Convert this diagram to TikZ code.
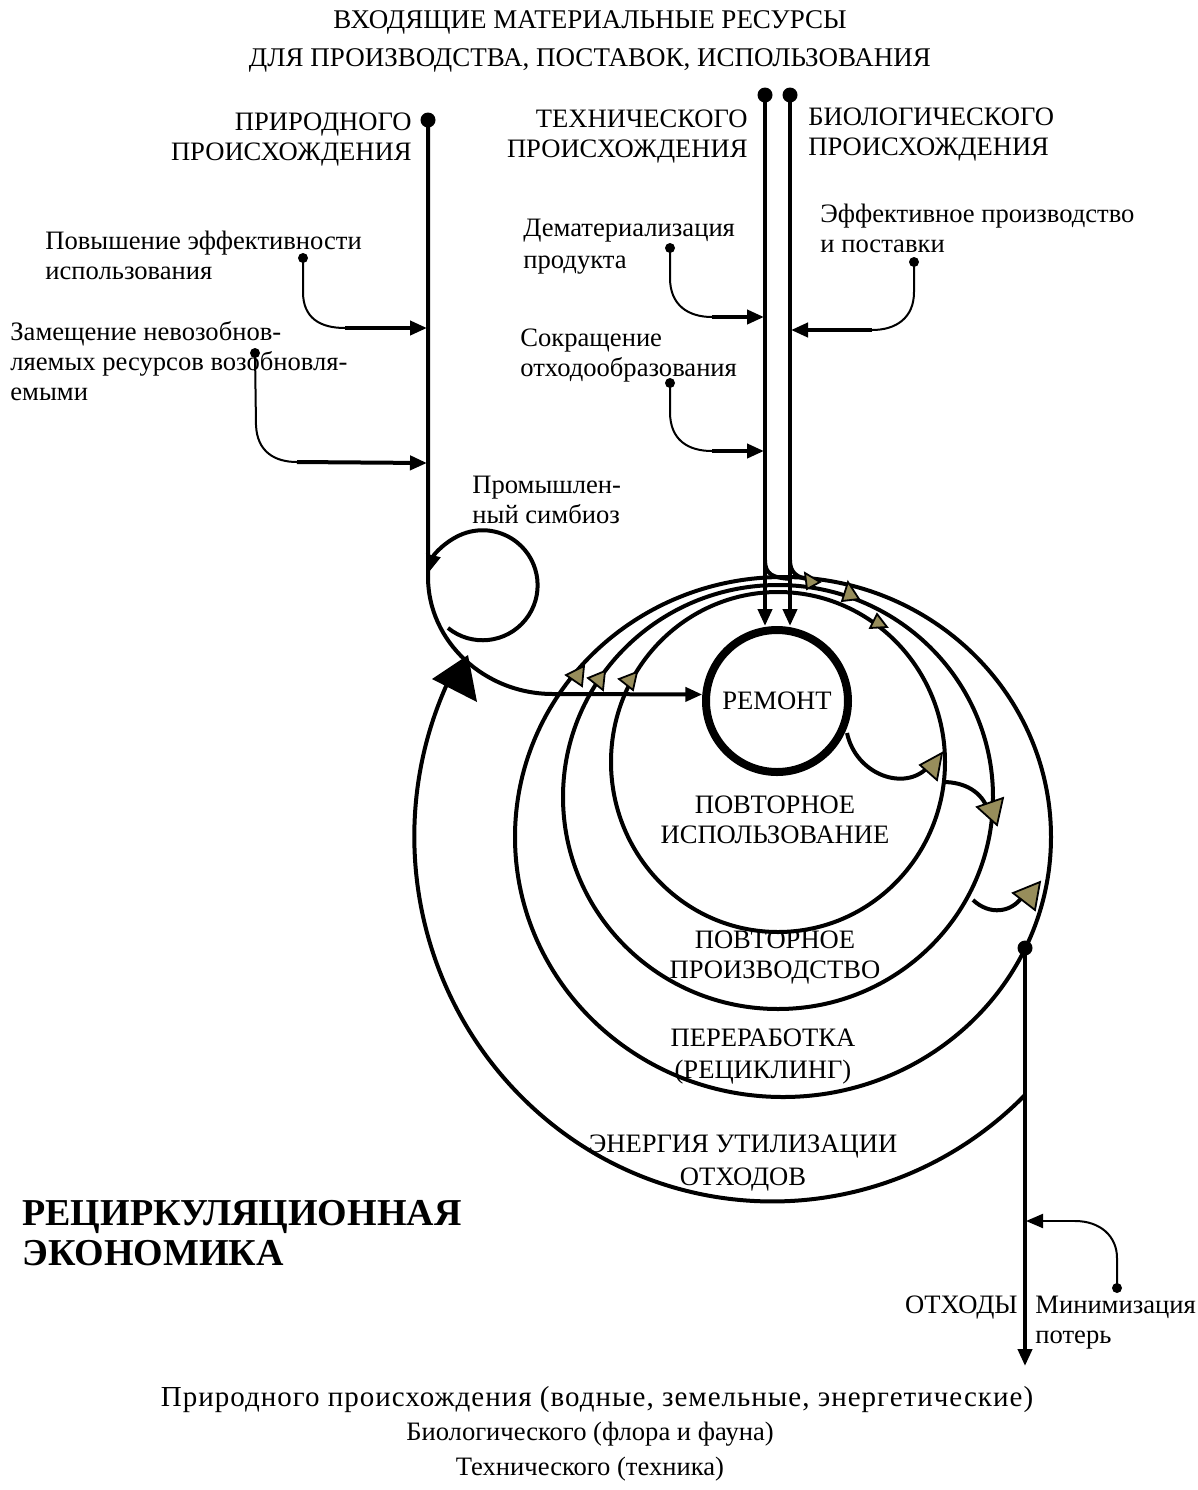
\documentclass[tikz,border=0pt]{standalone}
\usepackage{fontspec}
\setmainfont{Liberation Serif}
\usetikzlibrary{arrows.meta}
\definecolor{gold}{HTML}{978D5B}
\begin{document}
\begin{tikzpicture}[x=0.5pt,y=-0.5pt,
  lbl/.style={inner sep=0pt, font=\fontsize{13.3}{15}\selectfont},
  main/.style={line width=2pt},
  thinl/.style={line width=1pt},
  ring/.style={line width=2pt},
  arr/.style={-{Triangle[length=8.5pt,width=7pt]}},
  bigdot/.style={circle, fill=black, inner sep=0pt, minimum size=7.5pt},
  smalldot/.style={circle, fill=black, inner sep=0pt, minimum size=5pt},
  goldtri/.style={fill=gold, draw=black, line width=0.9pt, line join=miter},
]
\useasboundingbox (0,0) rectangle (1198,1490);

% ---------- rings ----------
\draw[ring] (783,837) ellipse [x radius=268, y radius=260];
\draw[ring] (778,797) ellipse [x radius=215, y radius=212];
\draw[ring] (778,762) ellipse [x radius=167, y radius=170];
\draw[ring] (1025,1095) arc[start angle=45.1, end angle=205, x radius=358, y radius=365];
\fill (432,679) -- (468,655) -- (477,702) -- cycle;

% ---------- repair ----------
\node[circle, draw, line width=4pt, minimum size=71pt, inner sep=0pt,
      font=\fontsize{13.3}{15}\selectfont] (rem) at (777,701) {РЕМОНТ};

% ---------- main vertical lines ----------
\node[bigdot] (dn) at (428,120) {};
\node[bigdot] (dt) at (765,95) {};
\node[bigdot] (db) at (790,95) {};
\draw[main, arr] (dn.center) -- (428,577) .. controls (428,641) and (484,694) .. (553,694) -- (rem.175);
\draw[main, arr] (dt.center) -- (765,0 |- rem.north);
\draw[main, arr] (db.center) -- (790,0 |- rem.north);
\draw[main] (765,560) .. controls (765,574) and (772,578) .. (792,579);
\draw[main] (790,560) .. controls (790,573) and (797,578) .. (812,580);

% industrial symbiosis loop
\draw[main, arr] (448,628) arc[start angle=129, end angle=-166, radius=55];

% ---------- waste line ----------
\node[bigdot] (dw) at (1025,948) {};
\coordinate (wend) at (1025,1366);
\draw[main, arr] (dw.center) -- (wend);

% ---------- side inputs ----------
\node[smalldot] (s1) at (303,258) {};
\draw[thinl] (s1.center) -- (303,292) .. controls (303,318) and (320,328) .. (345,328);
\draw[main, arr] (345,328) -- (427,328);
\node[smalldot] (s2) at (255,353) {};
\draw[thinl] (s2.center) -- (256,425) .. controls (257,452) and (275,462) .. (297,462);
\draw[main, arr] (297,462) -- (427,463);
\node[smalldot] (s3) at (670,248) {};
\draw[thinl] (s3.center) -- (670,278) .. controls (670,305) and (688,317) .. (712,317);
\draw[main, arr] (712,317) -- (764,317);
\node[smalldot] (s4) at (670,383) {};
\draw[thinl] (s4.center) -- (670,412) .. controls (670,440) and (688,451) .. (712,451);
\draw[main, arr] (712,451) -- (764,451);
\node[smalldot] (s5) at (914,262) {};
\draw[thinl] (s5.center) -- (914,292) .. controls (914,318) and (896,330) .. (872,330);
\draw[main, arr] (872,330) -- (791,330);
\node[smalldot] (s6) at (1117,1288) {};
\draw[thinl] (s6.center) -- (1117,1258) .. controls (1117,1236) and (1100,1221) .. (1075,1221);
\draw[thinl, arr] (1075,1221) -- (1026,1221);

% ---------- ring junctions ----------
\draw[ring] (847,733) .. controls (856,775) and (905,792) .. (928,767);
\draw[ring] (943,782) .. controls (965,782) and (982,792) .. (988,810);
\draw[ring] (973,900) .. controls (990,916) and (1012,912) .. (1022,897);

% gold arrowheads
\draw[goldtri] (566,675) -- (584,666) -- (582,686) -- cycle;
\draw[goldtri] (588,678) -- (605,671) -- (603,690) -- cycle;
\draw[goldtri] (619,679) -- (637,672) -- (633,690) -- cycle;
\draw[goldtri] (805,573) -- (820,582) -- (807,589) -- cycle;
\draw[goldtri] (848,582) -- (842,601) -- (859,599) -- cycle;
\draw[goldtri] (877,614) -- (870,628) -- (887,627) -- cycle;
\draw[goldtri] (920,765) -- (942,753) -- (937,780) -- cycle;
\draw[goldtri] (977,807) -- (1003,798) -- (997,825) -- cycle;
\draw[goldtri] (1013,893) -- (1040,882) -- (1035,910) -- cycle;

% ---------- texts (anchor base = last line) ----------
\node[lbl, align=center, anchor=base, font=\fontsize{13.5}{19}\selectfont] (title) at (590,66)
  {ВХОДЯЩИЕ МАТЕРИАЛЬНЫЕ РЕСУРСЫ\\ДЛЯ ПРОИЗВОДСТВА, ПОСТАВОК, ИСПОЛЬЗОВАНИЯ};
\node[lbl, align=right, anchor=base east] (lnat) at (412,160) {ПРИРОДНОГО\\ПРОИСХОЖДЕНИЯ};
\node[lbl, align=right, anchor=base east] (ltech) at (748,157) {ТЕХНИЧЕСКОГО\\ПРОИСХОЖДЕНИЯ};
\node[lbl, align=left, anchor=base west] (lbio) at (808,155) {БИОЛОГИЧЕСКОГО\\ПРОИСХОЖДЕНИЯ};
\node[lbl, align=left, anchor=base west] (l1) at (45,279) {Повышение эффективности\\использования};
\node[lbl, align=left, anchor=base west] (l2) at (10,400) {Замещение невозобнов-\\ляемых ресурсов возобновля-\\емыми};
\node[lbl, align=left, anchor=base west, font=\fontsize{13.3}{16}\selectfont] (l3) at (523,268) {Дематериализация\\продукта};
\node[lbl, align=left, anchor=base west] (l4) at (520,376) {Сокращение\\отходообразования};
\node[lbl, align=left, anchor=base west] (l5) at (820,252) {Эффективное производство\\и поставки};
\node[lbl, align=left, anchor=base west] (l6) at (472,523) {Промышлен-\\ный симбиоз};
\node[lbl, align=center, anchor=base] (r2) at (775,843) {ПОВТОРНОЕ\\ИСПОЛЬЗОВАНИЕ};
\node[lbl, align=center, anchor=base] (r3) at (775,978) {ПОВТОРНОЕ\\ПРОИЗВОДСТВО};
\node[lbl, align=center, anchor=base, font=\fontsize{13.3}{16}\selectfont] (r4) at (763,1078) {ПЕРЕРАБОТКА\\(РЕЦИКЛИНГ)};
\node[lbl, align=center, anchor=base, font=\fontsize{13.3}{16.5}\selectfont] (r5) at (743,1185) {ЭНЕРГИЯ УТИЛИЗАЦИИ\\ОТХОДОВ};
\node[lbl, align=left, anchor=base west, font=\bfseries\fontsize{19}{20}\selectfont] (ttl) at (22,1265) {РЕЦИРКУЛЯЦИОННАЯ\\ЭКОНОМИКА};
\node[lbl, anchor=base east] (waste) at (1018,1313) {ОТХОДЫ};
\node[lbl, align=left, anchor=base west] (minim) at (1035,1343) {Минимизация\\потерь};
\node[lbl, anchor=base, font=\fontsize{14.5}{17.5}\selectfont\addfontfeature{LetterSpace=3.5}] (bot1) at (597,1406)
  {Природного происхождения (водные, земельные, энергетические)};
\node[lbl, align=center, anchor=base, font=\fontsize{13.3}{17.5}\selectfont] (bot2) at (590,1475)
  {Биологического (флора и фауна)\\Технического (техника)};
\end{tikzpicture}
\end{document}
